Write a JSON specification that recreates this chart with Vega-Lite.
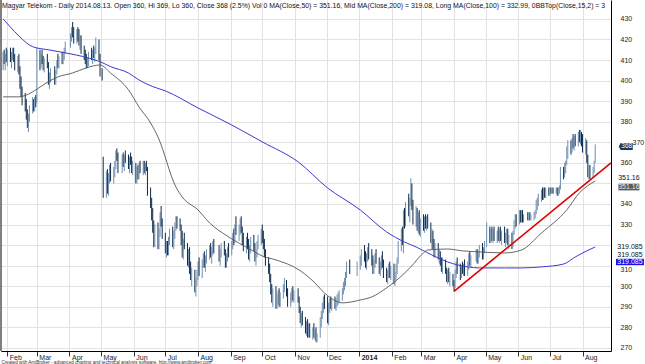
{
"$schema":"https://vega.github.io/schema/vega-lite/v6.json",
"width":610,"height":351,
"autosize":{"type":"none"},
"padding":{"left":1,"top":0,"right":34,"bottom":13},
"background":"#ffffff",
"title":{"text":"Magyar Telekom - Daily 2014.08.13. Open 360, Hi 369, Lo 360, Close 368 (2.5%) Vol 0 MA(Close,50) = 351.16, Mid MA(Close,200) = 319.08, Long MA(Close,100) = 332.99, 0BBTop(Close,15,2) = 3","anchor":"start","frame":"group","offset":-10,"dx":1,"fontSize":6.9,"fontWeight":"normal","color":"#111","font":"Liberation Sans"},
"config":{"font":"Liberation Sans","view":{"stroke":null},
"axis":{"gridColor":"#e2e2e2","gridWidth":1,"domainColor":"#000","labelColor":"#222","labelFont":"Liberation Sans"}},
"datasets":{
"bars":[
{"d":"2013-01-28","o":408,"h":414,"l":405,"c":411},
{"d":"2013-01-29","o":411,"h":415,"l":408,"c":409},
{"d":"2013-01-30","o":409,"h":413,"l":405,"c":412},
{"d":"2013-01-31","o":412,"h":416,"l":409,"c":410},
{"d":"2013-02-01","o":410,"h":415,"l":407,"c":413},
{"d":"2013-02-04","o":413,"h":416,"l":409,"c":410},
{"d":"2013-02-05","o":410,"h":414,"l":406,"c":412},
{"d":"2013-02-06","o":412,"h":416,"l":410,"c":414},
{"d":"2013-02-07","o":414,"h":416,"l":409,"c":410},
{"d":"2013-02-08","o":410,"h":413,"l":405,"c":407},
{"d":"2013-02-11","o":407,"h":412,"l":404,"c":410},
{"d":"2013-02-12","o":410,"h":413,"l":403,"c":404},
{"d":"2013-02-13","o":404,"h":407,"l":396,"c":398},
{"d":"2013-02-14","o":398,"h":402,"l":392,"c":394},
{"d":"2013-02-15","o":394,"h":397,"l":388,"c":390},
{"d":"2013-02-18","o":390,"h":394,"l":385,"c":387},
{"d":"2013-02-19","o":387,"h":391,"l":381,"c":383},
{"d":"2013-02-20","o":383,"h":386,"l":377,"c":379},
{"d":"2013-02-21","o":379,"h":384,"l":375,"c":382},
{"d":"2013-02-22","o":382,"h":388,"l":380,"c":386},
{"d":"2013-02-25","o":386,"h":392,"l":384,"c":388},
{"d":"2013-02-26","o":388,"h":391,"l":385,"c":386},
{"d":"2013-02-27","o":386,"h":392,"l":385,"c":391},
{"d":"2013-02-28","o":391,"h":393,"l":387,"c":389},
{"d":"2013-03-01","o":389,"h":416,"l":389,"c":412},
{"d":"2013-03-04","o":412,"h":415,"l":405,"c":408},
{"d":"2013-03-05","o":408,"h":413,"l":406,"c":411},
{"d":"2013-03-06","o":411,"h":415,"l":408,"c":409},
{"d":"2013-03-07","o":409,"h":412,"l":405,"c":407},
{"d":"2013-03-08","o":407,"h":411,"l":404,"c":410},
{"d":"2013-03-11","o":410,"h":413,"l":406,"c":407},
{"d":"2013-03-12","o":407,"h":409,"l":398,"c":400},
{"d":"2013-03-13","o":400,"h":404,"l":396,"c":402},
{"d":"2013-03-14","o":402,"h":406,"l":399,"c":404},
{"d":"2013-03-18","o":404,"h":407,"l":398,"c":400},
{"d":"2013-03-19","o":400,"h":405,"l":398,"c":404},
{"d":"2013-03-20","o":404,"h":410,"l":403,"c":409},
{"d":"2013-03-21","o":409,"h":413,"l":406,"c":408},
{"d":"2013-03-22","o":408,"h":412,"l":406,"c":411},
{"d":"2013-03-25","o":411,"h":414,"l":408,"c":410},
{"d":"2013-03-26","o":410,"h":414,"l":408,"c":413},
{"d":"2013-03-27","o":413,"h":416,"l":410,"c":415},
{"d":"2013-03-28","o":415,"h":419,"l":413,"c":418},
{"d":"2013-04-02","o":418,"h":423,"l":416,"c":421},
{"d":"2013-04-03","o":421,"h":426,"l":419,"c":425},
{"d":"2013-04-04","o":425,"h":428.5,"l":421,"c":423},
{"d":"2013-04-05","o":423,"h":426,"l":418,"c":420},
{"d":"2013-04-08","o":420,"h":425,"l":418,"c":424},
{"d":"2013-04-09","o":424,"h":426,"l":419,"c":421},
{"d":"2013-04-10","o":421,"h":425,"l":417,"c":418},
{"d":"2013-04-11","o":418,"h":422,"l":415,"c":420},
{"d":"2013-04-12","o":420,"h":422,"l":413,"c":414},
{"d":"2013-04-15","o":414,"h":417,"l":410,"c":412},
{"d":"2013-04-16","o":412,"h":415,"l":408,"c":410},
{"d":"2013-04-17","o":410,"h":413,"l":406,"c":408},
{"d":"2013-04-18","o":408,"h":411,"l":406,"c":409},
{"d":"2013-04-19","o":409,"h":414,"l":407,"c":413},
{"d":"2013-04-22","o":413,"h":416,"l":410,"c":411},
{"d":"2013-04-23","o":411,"h":415,"l":408,"c":414},
{"d":"2013-04-24","o":414,"h":417,"l":411,"c":412},
{"d":"2013-04-25","o":412,"h":416,"l":409,"c":415},
{"d":"2013-04-26","o":415,"h":421,"l":413,"c":418},
{"d":"2013-04-29","o":418,"h":420,"l":410,"c":412},
{"d":"2013-04-30","o":412,"h":413,"l":402,"c":404},
{"d":"2013-05-02","o":404,"h":406,"l":400,"c":402},
{"d":"2013-05-03","o":362,"h":363,"l":343,"c":347},
{"d":"2013-05-06","o":347,"h":356,"l":343,"c":352},
{"d":"2013-05-07","o":352,"h":357,"l":345,"c":348},
{"d":"2013-05-08","o":348,"h":355,"l":344,"c":353},
{"d":"2013-05-09","o":353,"h":359,"l":350,"c":356},
{"d":"2013-05-10","o":356,"h":360,"l":351,"c":354},
{"d":"2013-05-13","o":354,"h":358,"l":350,"c":357},
{"d":"2013-05-14","o":357,"h":361,"l":353,"c":359},
{"d":"2013-05-15","o":359,"h":366,"l":357,"c":364},
{"d":"2013-05-16","o":364,"h":367,"l":361,"c":362},
{"d":"2013-05-17","o":362,"h":365,"l":355,"c":357},
{"d":"2013-05-21","o":357,"h":364,"l":355,"c":362},
{"d":"2013-05-22","o":362,"h":365,"l":358,"c":360},
{"d":"2013-05-23","o":360,"h":364,"l":356,"c":363},
{"d":"2013-05-24","o":363,"h":366,"l":360,"c":361},
{"d":"2013-05-27","o":361,"h":364,"l":357,"c":358},
{"d":"2013-05-28","o":358,"h":363,"l":355,"c":362},
{"d":"2013-05-29","o":362,"h":365,"l":359,"c":360},
{"d":"2013-05-30","o":360,"h":363,"l":355,"c":357},
{"d":"2013-05-31","o":357,"h":361,"l":354,"c":359},
{"d":"2013-06-03","o":359,"h":360,"l":350,"c":352},
{"d":"2013-06-04","o":352,"h":358,"l":350,"c":356},
{"d":"2013-06-05","o":356,"h":359,"l":352,"c":353},
{"d":"2013-06-06","o":353,"h":360,"l":352,"c":358},
{"d":"2013-06-07","o":358,"h":361,"l":355,"c":357},
{"d":"2013-06-10","o":357,"h":361,"l":354,"c":360},
{"d":"2013-06-11","o":360,"h":361,"l":355,"c":356},
{"d":"2013-06-12","o":356,"h":360,"l":354,"c":359},
{"d":"2013-06-13","o":359,"h":361,"l":356,"c":357},
{"d":"2013-06-14","o":357,"h":358,"l":344,"c":346},
{"d":"2013-06-17","o":346,"h":348,"l":338,"c":340},
{"d":"2013-06-18","o":340,"h":343,"l":332,"c":334},
{"d":"2013-06-19","o":334,"h":338,"l":326,"c":329},
{"d":"2013-06-20","o":329,"h":332,"l":319,"c":322},
{"d":"2013-06-21","o":322,"h":330,"l":319,"c":327},
{"d":"2013-06-24","o":327,"h":331,"l":318,"c":320},
{"d":"2013-06-25","o":320,"h":328,"l":318,"c":326},
{"d":"2013-06-26","o":326,"h":336,"l":324,"c":334},
{"d":"2013-06-27","o":334,"h":339,"l":329,"c":331},
{"d":"2013-06-28","o":331,"h":333,"l":323,"c":325},
{"d":"2013-07-01","o":325,"h":326,"l":316,"c":318},
{"d":"2013-07-02","o":318,"h":322,"l":314,"c":320},
{"d":"2013-07-03","o":320,"h":322,"l":315,"c":316},
{"d":"2013-07-04","o":316,"h":324,"l":315,"c":322},
{"d":"2013-07-05","o":322,"h":328,"l":320,"c":326},
{"d":"2013-07-08","o":326,"h":329,"l":319,"c":321},
{"d":"2013-07-09","o":321,"h":327,"l":318,"c":325},
{"d":"2013-07-10","o":325,"h":331,"l":323,"c":329},
{"d":"2013-07-11","o":329,"h":334,"l":327,"c":332},
{"d":"2013-07-12","o":332,"h":334,"l":328,"c":330},
{"d":"2013-07-15","o":330,"h":333,"l":327,"c":328},
{"d":"2013-07-16","o":328,"h":330,"l":320,"c":322},
{"d":"2013-07-17","o":322,"h":327,"l":314,"c":316},
{"d":"2013-07-18","o":316,"h":323,"l":313,"c":321},
{"d":"2013-07-19","o":321,"h":326,"l":318,"c":319},
{"d":"2013-07-22","o":319,"h":321,"l":310,"c":312},
{"d":"2013-07-23","o":312,"h":318,"l":309,"c":316},
{"d":"2013-07-24","o":316,"h":319,"l":306,"c":308},
{"d":"2013-07-25","o":308,"h":312,"l":303,"c":305},
{"d":"2013-07-26","o":305,"h":309,"l":300,"c":307},
{"d":"2013-07-29","o":307,"h":308,"l":297,"c":299},
{"d":"2013-07-30","o":299,"h":304,"l":295,"c":302},
{"d":"2013-07-31","o":302,"h":308,"l":300,"c":306},
{"d":"2013-08-01","o":306,"h":312,"l":303,"c":310},
{"d":"2013-08-02","o":310,"h":314,"l":305,"c":308},
{"d":"2013-08-05","o":308,"h":313,"l":304,"c":311},
{"d":"2013-08-06","o":311,"h":316,"l":309,"c":314},
{"d":"2013-08-07","o":314,"h":317,"l":309,"c":310},
{"d":"2013-08-08","o":310,"h":315,"l":307,"c":313},
{"d":"2013-08-09","o":313,"h":318,"l":311,"c":316},
{"d":"2013-08-12","o":316,"h":320,"l":313,"c":318},
{"d":"2013-08-13","o":318,"h":321,"l":314,"c":315},
{"d":"2013-08-14","o":315,"h":319,"l":311,"c":317},
{"d":"2013-08-15","o":317,"h":322,"l":315,"c":320},
{"d":"2013-08-16","o":320,"h":323,"l":316,"c":318},
{"d":"2013-08-21","o":318,"h":320,"l":312,"c":314},
{"d":"2013-08-22","o":314,"h":318,"l":310,"c":316},
{"d":"2013-08-23","o":316,"h":321,"l":314,"c":319},
{"d":"2013-08-26","o":319,"h":322,"l":315,"c":316},
{"d":"2013-08-27","o":316,"h":318,"l":309,"c":311},
{"d":"2013-08-28","o":311,"h":316,"l":309,"c":314},
{"d":"2013-08-29","o":314,"h":319,"l":312,"c":318},
{"d":"2013-08-30","o":318,"h":321,"l":314,"c":316},
{"d":"2013-09-02","o":316,"h":322,"l":315,"c":320},
{"d":"2013-09-03","o":320,"h":326,"l":318,"c":324},
{"d":"2013-09-04","o":324,"h":328,"l":320,"c":322},
{"d":"2013-09-05","o":322,"h":330,"l":321,"c":328},
{"d":"2013-09-06","o":328,"h":334,"l":325,"c":326},
{"d":"2013-09-09","o":326,"h":330,"l":322,"c":328},
{"d":"2013-09-10","o":328,"h":333,"l":325,"c":331},
{"d":"2013-09-11","o":331,"h":334,"l":326,"c":327},
{"d":"2013-09-12","o":327,"h":329,"l":320,"c":322},
{"d":"2013-09-13","o":322,"h":326,"l":317,"c":319},
{"d":"2013-09-16","o":319,"h":324,"l":316,"c":322},
{"d":"2013-09-17","o":322,"h":326,"l":318,"c":320},
{"d":"2013-09-18","o":320,"h":323,"l":313,"c":315},
{"d":"2013-09-19","o":315,"h":320,"l":312,"c":318},
{"d":"2013-09-20","o":318,"h":324,"l":316,"c":322},
{"d":"2013-09-23","o":322,"h":325,"l":317,"c":318},
{"d":"2013-09-24","o":318,"h":321,"l":312,"c":314},
{"d":"2013-09-25","o":314,"h":318,"l":310,"c":316},
{"d":"2013-09-26","o":316,"h":322,"l":314,"c":320},
{"d":"2013-09-27","o":320,"h":325,"l":318,"c":323},
{"d":"2013-09-30","o":323,"h":328,"l":320,"c":326},
{"d":"2013-10-01","o":326,"h":330,"l":321,"c":323},
{"d":"2013-10-02","o":323,"h":327,"l":318,"c":320},
{"d":"2013-10-03","o":320,"h":323,"l":314,"c":316},
{"d":"2013-10-04","o":316,"h":318,"l":310,"c":312},
{"d":"2013-10-07","o":312,"h":314,"l":306,"c":308},
{"d":"2013-10-08","o":308,"h":311,"l":302,"c":304},
{"d":"2013-10-09","o":304,"h":306,"l":296,"c":298},
{"d":"2013-10-10","o":298,"h":301,"l":292,"c":295},
{"d":"2013-10-11","o":295,"h":299,"l":290,"c":297},
{"d":"2013-10-14","o":297,"h":300,"l":289,"c":291},
{"d":"2013-10-15","o":291,"h":296,"l":289,"c":294},
{"d":"2013-10-16","o":294,"h":298,"l":291,"c":296},
{"d":"2013-10-17","o":296,"h":299,"l":290,"c":292},
{"d":"2013-10-18","o":292,"h":297,"l":290,"c":295},
{"d":"2013-10-21","o":295,"h":301,"l":294,"c":300},
{"d":"2013-10-22","o":300,"h":304,"l":297,"c":302},
{"d":"2013-10-24","o":302,"h":303,"l":295,"c":297},
{"d":"2013-10-25","o":297,"h":299,"l":290,"c":292},
{"d":"2013-10-28","o":292,"h":297,"l":290,"c":295},
{"d":"2013-10-29","o":295,"h":299,"l":292,"c":297},
{"d":"2013-10-30","o":297,"h":300,"l":293,"c":295},
{"d":"2013-10-31","o":295,"h":298,"l":292,"c":296},
{"d":"2013-11-04","o":296,"h":299,"l":292,"c":294},
{"d":"2013-11-05","o":294,"h":295,"l":287,"c":288},
{"d":"2013-11-06","o":288,"h":290,"l":282,"c":284},
{"d":"2013-11-07","o":284,"h":287,"l":280,"c":285},
{"d":"2013-11-08","o":285,"h":288,"l":281,"c":282},
{"d":"2013-11-11","o":282,"h":285,"l":277,"c":279},
{"d":"2013-11-12","o":279,"h":283,"l":276,"c":281},
{"d":"2013-11-13","o":281,"h":284,"l":275,"c":277},
{"d":"2013-11-14","o":277,"h":282,"l":275,"c":280},
{"d":"2013-11-15","o":280,"h":282,"l":275,"c":276},
{"d":"2013-11-18","o":276,"h":280,"l":274,"c":279},
{"d":"2013-11-19","o":279,"h":282,"l":275,"c":276},
{"d":"2013-11-20","o":276,"h":279,"l":274,"c":278},
{"d":"2013-11-21","o":278,"h":280,"l":273,"c":274},
{"d":"2013-11-22","o":274,"h":277,"l":272.5,"c":276},
{"d":"2013-11-25","o":276,"h":285,"l":275,"c":283},
{"d":"2013-11-26","o":283,"h":288,"l":280,"c":286},
{"d":"2013-11-27","o":286,"h":292,"l":284,"c":290},
{"d":"2013-11-28","o":290,"h":295,"l":287,"c":293},
{"d":"2013-11-29","o":293,"h":296,"l":289,"c":291},
{"d":"2013-12-02","o":291,"h":295,"l":282,"c":285},
{"d":"2013-12-03","o":285,"h":292,"l":281,"c":290},
{"d":"2013-12-04","o":290,"h":294,"l":287,"c":292},
{"d":"2013-12-05","o":292,"h":295,"l":289,"c":290},
{"d":"2013-12-06","o":290,"h":294,"l":288,"c":293},
{"d":"2013-12-09","o":293,"h":295,"l":289,"c":291},
{"d":"2013-12-10","o":291,"h":294,"l":288,"c":292},
{"d":"2013-12-11","o":292,"h":296,"l":290,"c":294},
{"d":"2013-12-12","o":294,"h":297,"l":291,"c":295},
{"d":"2013-12-13","o":295,"h":298,"l":292,"c":296},
{"d":"2013-12-16","o":296,"h":299,"l":293,"c":297},
{"d":"2013-12-17","o":297,"h":302,"l":296,"c":301},
{"d":"2013-12-18","o":301,"h":304,"l":298,"c":302},
{"d":"2013-12-19","o":302,"h":307,"l":300,"c":306},
{"d":"2013-12-20","o":306,"h":312,"l":304,"c":310},
{"d":"2013-12-23","o":310,"h":313,"l":306,"c":308},
{"d":"2013-12-30","o":308,"h":312,"l":305,"c":311},
{"d":"2014-01-02","o":311,"h":315,"l":308,"c":313},
{"d":"2014-01-03","o":313,"h":318,"l":310,"c":316},
{"d":"2014-01-06","o":316,"h":320,"l":312,"c":314},
{"d":"2014-01-07","o":314,"h":317,"l":309,"c":311},
{"d":"2014-01-08","o":311,"h":316,"l":308,"c":315},
{"d":"2014-01-09","o":315,"h":319,"l":312,"c":317},
{"d":"2014-01-10","o":317,"h":321,"l":313,"c":314},
{"d":"2014-01-13","o":314,"h":318,"l":310,"c":312},
{"d":"2014-01-14","o":312,"h":315,"l":306,"c":308},
{"d":"2014-01-15","o":308,"h":313,"l":306,"c":311},
{"d":"2014-01-16","o":311,"h":316,"l":309,"c":314},
{"d":"2014-01-17","o":314,"h":318,"l":311,"c":312},
{"d":"2014-01-20","o":312,"h":314,"l":306,"c":308},
{"d":"2014-01-21","o":308,"h":312,"l":305,"c":310},
{"d":"2014-01-22","o":310,"h":315,"l":308,"c":313},
{"d":"2014-01-23","o":313,"h":317,"l":309,"c":311},
{"d":"2014-01-24","o":311,"h":313,"l":304,"c":306},
{"d":"2014-01-27","o":306,"h":309,"l":302,"c":304},
{"d":"2014-01-28","o":304,"h":308,"l":301,"c":306},
{"d":"2014-01-29","o":306,"h":311,"l":304,"c":309},
{"d":"2014-01-30","o":309,"h":312,"l":304,"c":306},
{"d":"2014-01-31","o":306,"h":310,"l":303,"c":308},
{"d":"2014-02-03","o":308,"h":311,"l":301,"c":303},
{"d":"2014-02-04","o":303,"h":307,"l":300,"c":305},
{"d":"2014-02-05","o":305,"h":311,"l":303,"c":309},
{"d":"2014-02-06","o":309,"h":314,"l":306,"c":312},
{"d":"2014-02-07","o":312,"h":322,"l":311,"c":320},
{"d":"2014-02-10","o":320,"h":328,"l":317,"c":326},
{"d":"2014-02-11","o":326,"h":329,"l":320,"c":322},
{"d":"2014-02-12","o":322,"h":337,"l":316,"c":334},
{"d":"2014-02-13","o":334,"h":338,"l":328,"c":330},
{"d":"2014-02-14","o":330,"h":341,"l":329,"c":339},
{"d":"2014-02-17","o":339,"h":345,"l":334,"c":336},
{"d":"2014-02-18","o":336,"h":343,"l":331,"c":341},
{"d":"2014-02-19","o":341,"h":352.5,"l":339,"c":348},
{"d":"2014-02-20","o":348,"h":350,"l":337,"c":340},
{"d":"2014-02-21","o":340,"h":342,"l":330,"c":333},
{"d":"2014-02-24","o":333,"h":339,"l":329,"c":337},
{"d":"2014-02-25","o":337,"h":338,"l":327,"c":329},
{"d":"2014-02-26","o":329,"h":336,"l":326,"c":334},
{"d":"2014-02-27","o":334,"h":337,"l":325,"c":327},
{"d":"2014-02-28","o":327,"h":333,"l":324,"c":331},
{"d":"2014-03-03","o":331,"h":335,"l":327,"c":329},
{"d":"2014-03-04","o":329,"h":334,"l":326,"c":332},
{"d":"2014-03-05","o":332,"h":335,"l":328,"c":330},
{"d":"2014-03-06","o":330,"h":334,"l":327,"c":333},
{"d":"2014-03-07","o":333,"h":335,"l":328,"c":329},
{"d":"2014-03-10","o":329,"h":331,"l":321,"c":323},
{"d":"2014-03-11","o":323,"h":328,"l":318,"c":326},
{"d":"2014-03-12","o":326,"h":327,"l":318,"c":320},
{"d":"2014-03-13","o":320,"h":323,"l":314,"c":316},
{"d":"2014-03-14","o":316,"h":321,"l":314,"c":319},
{"d":"2014-03-17","o":319,"h":321,"l":313,"c":315},
{"d":"2014-03-18","o":315,"h":318,"l":311,"c":316},
{"d":"2014-03-19","o":316,"h":317,"l":310,"c":312},
{"d":"2014-03-20","o":312,"h":314,"l":307,"c":309},
{"d":"2014-03-21","o":309,"h":314,"l":306,"c":312},
{"d":"2014-03-24","o":312,"h":313,"l":306,"c":307},
{"d":"2014-03-25","o":307,"h":309,"l":302,"c":304},
{"d":"2014-03-26","o":304,"h":308,"l":301,"c":306},
{"d":"2014-03-27","o":306,"h":309,"l":302,"c":303},
{"d":"2014-03-28","o":303,"h":307,"l":300,"c":305},
{"d":"2014-03-31","o":305,"h":306,"l":300,"c":301},
{"d":"2014-04-01","o":301,"h":303,"l":297.5,"c":300},
{"d":"2014-04-02","o":300,"h":308,"l":299,"c":306},
{"d":"2014-04-03","o":306,"h":312,"l":304,"c":310},
{"d":"2014-04-04","o":310,"h":314,"l":306,"c":308},
{"d":"2014-04-07","o":308,"h":311,"l":303,"c":305},
{"d":"2014-04-08","o":305,"h":310,"l":304,"c":309},
{"d":"2014-04-09","o":309,"h":312,"l":306,"c":307},
{"d":"2014-04-10","o":307,"h":311,"l":305,"c":310},
{"d":"2014-04-11","o":310,"h":313,"l":305,"c":306},
{"d":"2014-04-14","o":306,"h":312,"l":305,"c":311},
{"d":"2014-04-15","o":311,"h":316,"l":308,"c":314},
{"d":"2014-04-16","o":314,"h":317,"l":310,"c":311},
{"d":"2014-04-17","o":311,"h":315,"l":309,"c":314},
{"d":"2014-04-22","o":314,"h":318,"l":312,"c":316},
{"d":"2014-04-23","o":316,"h":318,"l":311,"c":313},
{"d":"2014-04-24","o":313,"h":317,"l":311,"c":316},
{"d":"2014-04-25","o":316,"h":320,"l":314,"c":318},
{"d":"2014-04-28","o":318,"h":321,"l":313,"c":315},
{"d":"2014-04-29","o":315,"h":319,"l":313,"c":318},
{"d":"2014-04-30","o":318,"h":322,"l":316,"c":320},
{"d":"2014-05-02","o":320,"h":331,"l":319,"c":327},
{"d":"2014-05-05","o":327,"h":329,"l":321,"c":323},
{"d":"2014-05-06","o":323,"h":328,"l":321,"c":326},
{"d":"2014-05-07","o":326,"h":329,"l":322,"c":324},
{"d":"2014-05-08","o":324,"h":328,"l":321,"c":327},
{"d":"2014-05-09","o":327,"h":329,"l":322,"c":323},
{"d":"2014-05-12","o":323,"h":327,"l":321,"c":326},
{"d":"2014-05-13","o":326,"h":329,"l":322,"c":324},
{"d":"2014-05-14","o":324,"h":328,"l":321,"c":327},
{"d":"2014-05-15","o":327,"h":329,"l":322,"c":323},
{"d":"2014-05-16","o":323,"h":327,"l":320,"c":325},
{"d":"2014-05-19","o":325,"h":329,"l":321,"c":322},
{"d":"2014-05-20","o":322,"h":326,"l":319,"c":324},
{"d":"2014-05-21","o":324,"h":328,"l":321,"c":327},
{"d":"2014-05-22","o":327,"h":328,"l":320,"c":321},
{"d":"2014-05-23","o":321,"h":325,"l":318,"c":323},
{"d":"2014-05-26","o":323,"h":326,"l":318,"c":320},
{"d":"2014-05-27","o":320,"h":327,"l":319,"c":326},
{"d":"2014-05-28","o":326,"h":332,"l":325,"c":331},
{"d":"2014-05-29","o":331,"h":335,"l":328,"c":333},
{"d":"2014-05-30","o":333,"h":335,"l":329,"c":331},
{"d":"2014-06-02","o":331,"h":337,"l":330,"c":335},
{"d":"2014-06-03","o":335,"h":337,"l":331,"c":333},
{"d":"2014-06-04","o":333,"h":337,"l":331,"c":336},
{"d":"2014-06-05","o":336,"h":337,"l":331,"c":332},
{"d":"2014-06-06","o":332,"h":335,"l":331,"c":334},
{"d":"2014-06-10","o":334,"h":336,"l":332,"c":333},
{"d":"2014-06-11","o":333,"h":336,"l":332,"c":335},
{"d":"2014-06-12","o":335,"h":336,"l":332,"c":333},
{"d":"2014-06-13","o":333,"h":335,"l":332,"c":334},
{"d":"2014-06-16","o":334,"h":336,"l":332,"c":335},
{"d":"2014-06-17","o":335,"h":337,"l":333,"c":336},
{"d":"2014-06-18","o":336,"h":342,"l":335,"c":340},
{"d":"2014-06-19","o":340,"h":343,"l":337,"c":341},
{"d":"2014-06-20","o":341,"h":345,"l":339,"c":343},
{"d":"2014-06-23","o":343,"h":347,"l":341,"c":345},
{"d":"2014-06-24","o":345,"h":348,"l":342,"c":344},
{"d":"2014-06-25","o":344,"h":348,"l":342,"c":346},
{"d":"2014-06-26","o":346,"h":348,"l":343,"c":345},
{"d":"2014-06-27","o":345,"h":348,"l":343,"c":347},
{"d":"2014-06-30","o":347,"h":348,"l":344,"c":346},
{"d":"2014-07-01","o":346,"h":348,"l":344,"c":347},
{"d":"2014-07-02","o":347,"h":348,"l":345,"c":346},
{"d":"2014-07-03","o":346,"h":348,"l":345,"c":347},
{"d":"2014-07-04","o":347,"h":348,"l":345,"c":346},
{"d":"2014-07-07","o":346,"h":348,"l":345,"c":347},
{"d":"2014-07-08","o":347,"h":348,"l":344,"c":345},
{"d":"2014-07-09","o":345,"h":348,"l":344,"c":347},
{"d":"2014-07-10","o":347,"h":349,"l":345,"c":348},
{"d":"2014-07-11","o":348,"h":358,"l":347,"c":356},
{"d":"2014-07-14","o":356,"h":358,"l":352,"c":354},
{"d":"2014-07-15","o":354,"h":360,"l":353,"c":358},
{"d":"2014-07-16","o":358,"h":361,"l":355,"c":360},
{"d":"2014-07-17","o":360,"h":368,"l":359,"c":366},
{"d":"2014-07-18","o":366,"h":371,"l":362,"c":369},
{"d":"2014-07-21","o":369,"h":371,"l":364,"c":366},
{"d":"2014-07-22","o":366,"h":372,"l":365,"c":370},
{"d":"2014-07-23","o":370,"h":374,"l":367,"c":368},
{"d":"2014-07-24","o":368,"h":373,"l":366,"c":372},
{"d":"2014-07-25","o":372,"h":374,"l":368,"c":370},
{"d":"2014-07-28","o":370,"h":375,"l":368,"c":373},
{"d":"2014-07-29","o":373,"h":376,"l":370,"c":372},
{"d":"2014-07-30","o":372,"h":376,"l":369,"c":374},
{"d":"2014-07-31","o":374,"h":375,"l":368,"c":370},
{"d":"2014-08-01","o":370,"h":374,"l":365,"c":367},
{"d":"2014-08-04","o":367,"h":372,"l":364,"c":371},
{"d":"2014-08-05","o":371,"h":371,"l":360,"c":362},
{"d":"2014-08-06","o":362,"h":364,"l":353,"c":356},
{"d":"2014-08-07","o":356,"h":359,"l":352,"c":357},
{"d":"2014-08-08","o":357,"h":359,"l":352,"c":354},
{"d":"2014-08-11","o":354,"h":358,"l":353,"c":357},
{"d":"2014-08-12","o":357,"h":361,"l":355,"c":360},
{"d":"2014-08-13","o":360,"h":369,"l":360,"c":368}
],
"ma50":[
{"d":"2013-01-28","v":392.1},{"d":"2013-02-12","v":392.1},{"d":"2013-02-25","v":394.5},{"d":"2013-03-07","v":397.9},{"d":"2013-03-21","v":401.8},{"d":"2013-04-04","v":403.7},{"d":"2013-04-17","v":406.2},{"d":"2013-04-30","v":407.6},{"d":"2013-05-10","v":403.7},{"d":"2013-05-27","v":395.5},{"d":"2013-06-06","v":387.2},{"d":"2013-06-17","v":379.4},{"d":"2013-06-24","v":372.6},{"d":"2013-07-11","v":348.3},{"d":"2013-07-17","v":343.4},{"d":"2013-08-01","v":337.1},{"d":"2013-08-12","v":330.8},{"d":"2013-08-30","v":324.0},{"d":"2013-09-19","v":318.1},{"d":"2013-10-01","v":314.7},{"d":"2013-10-14","v":312.8},{"d":"2013-11-05","v":307.9},{"d":"2013-11-20","v":301.6},{"d":"2013-11-29","v":296.7},{"d":"2013-12-05","v":294.3},{"d":"2013-12-16","v":291.9},{"d":"2014-01-02","v":293.3},{"d":"2014-01-13","v":294.8},{"d":"2014-01-27","v":299.2},{"d":"2014-02-06","v":303.1},{"d":"2014-02-19","v":309.4},{"d":"2014-03-03","v":316.2},{"d":"2014-03-07","v":317.6},{"d":"2014-03-26","v":318.1},{"d":"2014-04-09","v":317.2},{"d":"2014-04-25","v":316.7},{"d":"2014-05-19","v":316.2},{"d":"2014-06-04","v":317.6},{"d":"2014-06-23","v":325.9},{"d":"2014-07-17","v":337.1},{"d":"2014-07-29","v":345.4},{"d":"2014-08-13","v":351.16}
],
"ma200":[
{"d":"2013-01-28","v":430},{"d":"2013-02-04","v":426},{"d":"2013-02-12","v":421.7},{"d":"2013-02-25","v":416.5},{"d":"2013-03-13","v":414.9},{"d":"2013-03-28","v":413.5},{"d":"2013-04-19","v":411},{"d":"2013-04-30","v":409.2},{"d":"2013-05-10","v":406.8},{"d":"2013-05-27","v":403.7},{"d":"2013-06-06","v":400.3},{"d":"2013-06-19","v":397.1},{"d":"2013-07-01","v":395},{"d":"2013-08-01","v":386.7},{"d":"2013-09-02","v":378.4},{"d":"2013-10-01","v":370.2},{"d":"2013-11-04","v":360.5},{"d":"2013-12-02","v":347.8},{"d":"2014-01-02","v":337.1},{"d":"2014-01-27","v":326.4},{"d":"2014-02-13","v":321.5},{"d":"2014-02-24","v":319.1},{"d":"2014-03-11","v":315.2},{"d":"2014-03-26","v":311.8},{"d":"2014-04-14","v":309.4},{"d":"2014-04-25","v":308.9},{"d":"2014-05-19","v":308.9},{"d":"2014-06-04","v":308.9},{"d":"2014-06-23","v":309.4},{"d":"2014-07-14","v":310.8},{"d":"2014-07-25","v":314.2},{"d":"2014-08-05","v":317.2},{"d":"2014-08-13","v":319.085}
],
"trend":[{"d":"2014-04-01","v":297.5},{"d":"2014-08-28","v":360}],
"edge":[{"d":"2013-01-26"}],
"tags":[
{"k":"price","d":"2014-09-11","v":368,"t":"368"},
{"k":"ma50","d":"2014-09-14","v":351.16,"t":"351.16"},
{"k":"ma200","d":"2014-09-15","v":319.085,"t":"319.085"}
]
},
"layer":[
{"data":{"name":"bars"},
"mark":{"type":"rule","strokeWidth":1},
"encoding":{
"x":{"field":"d","type":"temporal","scale":{"type":"utc","domain":[{"year":2013,"month":"jan","date":26,"utc":true},{"year":2014,"month":"aug","date":28,"utc":true}]},
"axis":{"orient":"bottom","tickCount":{"interval":"month","step":1},"labelExpr":"utcFormat(datum.value,'%m')=='01' ? utcFormat(datum.value,'%Y') : utcFormat(datum.value,'%b')","labelFontWeight":{"condition":{"test":"utcmonth(datum.value)==0","value":"bold"},"value":"normal"},"labelAlign":"left","labelBaseline":"top","labelOffset":2,"labelPadding":-3,"labelFontSize":7,"labelOverlap":false,"labelFlush":false,"tickSize":5,"tickColor":"#333","grid":true,"title":"Created with AmiBroker - advanced charting and technical analysis software. http://www.amibroker.com","titleFontSize":4.6,"titleFontWeight":"normal","titleAnchor":"start","titleAlign":"left","titlePadding":-1,"titleColor":"#333"}},
"y":{"field":"l","type":"quantitative","scale":{"domain":[268.5,439.2],"nice":false,"zero":false},
"axis":{"orient":"right","values":[270,280,290,300,310,320,330,340,350,360,370,380,390,400,410,420,430],"tickCount":40,"labelExpr":"datum.value==320 || datum.value==350 ? '' : datum.label","labelFontSize":7,"labelPadding":{"condition":{"test":"datum.value==370","value":21},"value":9},"labelBaseline":{"condition":{"test":"datum.value==310","value":"top"},"value":"middle"},"labelOverlap":false,"ticks":false,"grid":true,"title":null}},
"y2":{"field":"h"},
"color":{"condition":{"test":"datum.c >= datum.o","value":"#6f8fb1"},"value":"#0c2a4a"}
}},
{"data":{"name":"edge"},"mark":{"type":"rule","color":"#000","strokeWidth":1},
"encoding":{"x":{"field":"d","type":"temporal"}}},
{"data":{"name":"ma200"},"mark":{"type":"line","color":"#3a3ad0","strokeWidth":1,"interpolate":"monotone"},
"encoding":{"x":{"field":"d","type":"temporal"},"y":{"field":"v","type":"quantitative"}}},
{"data":{"name":"ma50"},"mark":{"type":"line","color":"#555555","strokeWidth":0.9,"interpolate":"monotone"},
"encoding":{"x":{"field":"d","type":"temporal"},"y":{"field":"v","type":"quantitative"}}},
{"mark":{"type":"rule","color":"#c80000","strokeWidth":1},
"encoding":{"y":{"datum":350}}},
{"data":{"name":"trend"},"mark":{"type":"line","color":"#e00000","strokeWidth":1.6},
"encoding":{"x":{"field":"d","type":"temporal"},"y":{"field":"v","type":"quantitative"}}},
{"data":{"name":"tags"},"transform":[{"filter":"datum.k=='price'"}],
"mark":{"type":"point","shape":"M -1 0 L -0.72 -0.5 L 1 -0.5 L 1 0.5 L -0.72 0.5 Z","size":196,"filled":true,"opacity":1,"color":"#1c3b5a","strokeWidth":0,"clip":false},
"encoding":{"x":{"field":"d","type":"temporal"},"y":{"field":"v","type":"quantitative"}}},
{"data":{"name":"tags"},"transform":[{"filter":"datum.k=='price'"}],
"mark":{"type":"text","color":"#ffffff","fontSize":6.5,"baseline":"middle","align":"center","dx":1,"clip":false},
"encoding":{"x":{"field":"d","type":"temporal"},"y":{"field":"v","type":"quantitative"},"text":{"field":"t"}}},
{"data":{"name":"tags"},"transform":[{"filter":"datum.k=='ma50'"}],
"mark":{"type":"text","color":"#111","fontSize":7,"baseline":"middle","align":"center","yOffset":-3,"clip":false},
"encoding":{"x":{"field":"d","type":"temporal"},"y":{"field":"v","type":"quantitative"},"text":{"field":"t"}}},
{"data":{"name":"tags"},"transform":[{"filter":"datum.k=='ma50'"}],
"mark":{"type":"point","shape":"M -1 -0.32 L 1 -0.32 L 1 0.32 L -1 0.32 Z","size":441,"filled":true,"opacity":1,"color":"#5a5a5a","strokeWidth":0,"yOffset":6,"clip":false},
"encoding":{"x":{"field":"d","type":"temporal"},"y":{"field":"v","type":"quantitative"}}},
{"data":{"name":"tags"},"transform":[{"filter":"datum.k=='ma50'"}],
"mark":{"type":"text","color":"#e8e8e8","fontSize":7,"baseline":"middle","align":"center","yOffset":6,"clip":false},
"encoding":{"x":{"field":"d","type":"temporal"},"y":{"field":"v","type":"quantitative"},"text":{"field":"t"}}},
{"data":{"name":"tags"},"transform":[{"filter":"datum.k=='ma200'"}],
"mark":{"type":"text","color":"#111","fontSize":7,"baseline":"middle","align":"center","clip":false},
"encoding":{"x":{"field":"d","type":"temporal"},"y":{"field":"v","type":"quantitative"},"text":{"field":"t"}}},
{"data":{"name":"tags"},"transform":[{"filter":"datum.k=='ma200'"}],
"mark":{"type":"text","color":"#111","fontSize":7,"baseline":"middle","align":"center","yOffset":8.5,"clip":false},
"encoding":{"x":{"field":"d","type":"temporal"},"y":{"field":"v","type":"quantitative"},"text":{"field":"t"}}},
{"data":{"name":"tags"},"transform":[{"filter":"datum.k=='ma200'"}],
"mark":{"type":"point","shape":"M -1 -0.23 L 1 -0.23 L 1 0.23 L -1 0.23 Z","size":784,"filled":true,"opacity":1,"color":"#1414e6","strokeWidth":0,"yOffset":15,"clip":false},
"encoding":{"x":{"field":"d","type":"temporal"},"y":{"field":"v","type":"quantitative"}}},
{"data":{"name":"tags"},"transform":[{"filter":"datum.k=='ma200'"}],
"mark":{"type":"text","color":"#ffffff","fontSize":7,"baseline":"middle","align":"center","yOffset":15,"clip":false},
"encoding":{"x":{"field":"d","type":"temporal"},"y":{"field":"v","type":"quantitative"},"text":{"field":"t"}}}
]
}
